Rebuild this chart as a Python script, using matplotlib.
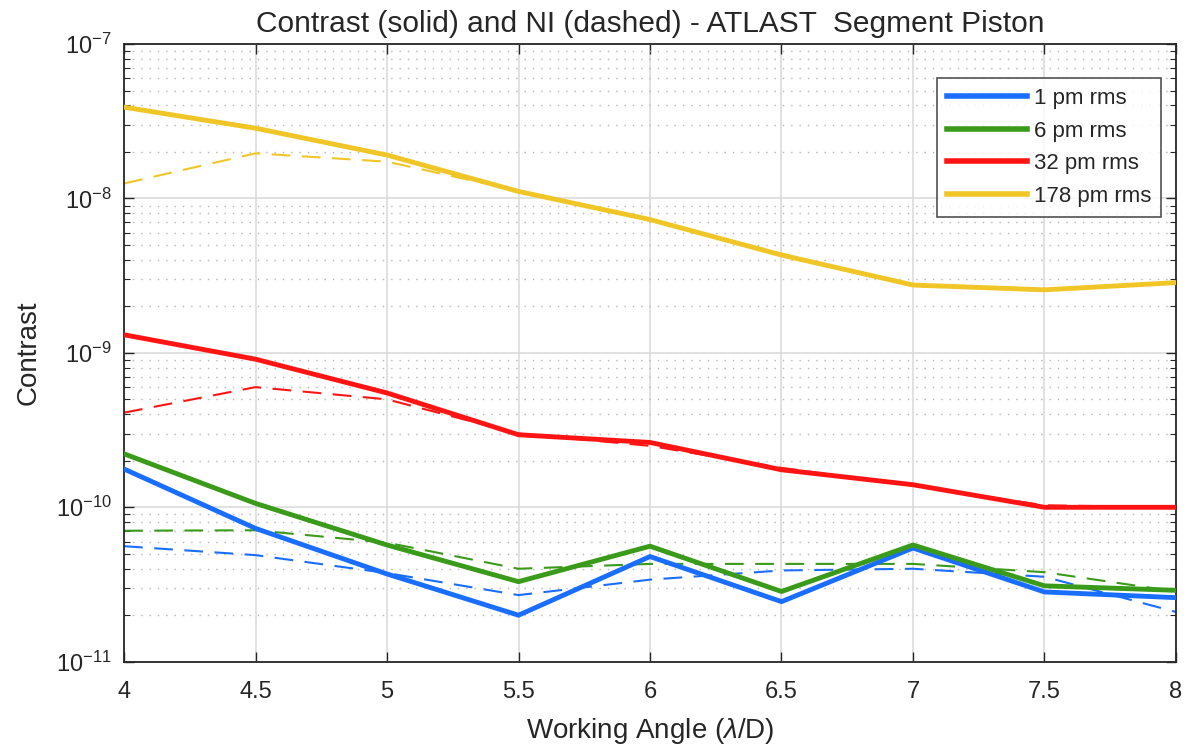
import matplotlib
matplotlib.use("Agg")
import matplotlib.pyplot as plt
from matplotlib.ticker import LogLocator, NullFormatter, FixedLocator, LogFormatterSciNotation

# Working angle grid (lambda/D)
angle = [4.0, 4.5, 5.0, 5.5, 6.0, 6.5, 7.0, 7.5, 8.0]

# Contrast (solid curves)
contrast_1pm = [1.77e-10, 7.3e-11, 3.7e-11, 2.0e-11, 4.8e-11, 2.45e-11, 5.45e-11, 2.83e-11, 2.6e-11]
contrast_6pm = [2.22e-10, 1.06e-10, 5.7e-11, 3.3e-11, 5.6e-11, 2.85e-11, 5.7e-11, 3.1e-11, 2.9e-11]
contrast_32pm = [1.31e-9, 9.1e-10, 5.5e-10, 2.95e-10, 2.63e-10, 1.75e-10, 1.4e-10, 1.0e-10, 1.0e-10]
contrast_178pm = [3.9e-8, 2.85e-8, 1.91e-8, 1.11e-8, 7.3e-9, 4.3e-9, 2.75e-9, 2.56e-9, 2.85e-9]

# Normalized intensity (dashed curves)
ni_1pm = [5.6e-11, 4.9e-11, 3.75e-11, 2.7e-11, 3.4e-11, 3.9e-11, 4.0e-11, 3.55e-11, 2.1e-11]
ni_6pm = [7.05e-11, 7.1e-11, 5.9e-11, 4.0e-11, 4.3e-11, 4.3e-11, 4.3e-11, 3.8e-11, 2.85e-11]
ni_32pm = [4.1e-10, 6.0e-10, 5.0e-10, 3.0e-10, 2.5e-10, 1.8e-10, 1.38e-10, 1.03e-10, 1.0e-10]
ni_178pm = [1.25e-8, 1.96e-8, 1.73e-8, 1.12e-8, 7.3e-9, 4.4e-9, 2.7e-9, 2.55e-9, 2.85e-9]

labels = ["1 pm rms", "6 pm rms", "32 pm rms", "178 pm rms"]
colors = ["#1a6eff", "#3a9a1a", "#ff1414", "#f0c626"]

x_ticks = [4, 4.5, 5, 5.5, 6, 6.5, 7, 7.5, 8]
x_ticklabels = ["4", "4.5", "5", "5.5", "6", "6.5", "7", "7.5", "8"]
y_ticks = [1e-11, 1e-10, 1e-9, 1e-8, 1e-7]

plt.rcParams["font.family"] = ["Liberation Sans", "DejaVu Sans"]
plt.rcParams["mathtext.fontset"] = "custom"
plt.rcParams["mathtext.rm"] = "Liberation Sans"
plt.rcParams["mathtext.it"] = "Liberation Sans:italic"

text_color = "#262626"

fig = plt.figure(figsize=(11.87, 7.5), dpi=100)
ax = fig.add_axes([0.1045, 0.1177, 0.8862, 0.8236])

contrast = [contrast_1pm, contrast_6pm, contrast_32pm, contrast_178pm]
ni = [ni_1pm, ni_6pm, ni_32pm, ni_178pm]

for c, n, lab, col in zip(contrast, ni, labels, colors):
    ax.plot(angle, c, color=col, lw=3.5, label=lab, zorder=3, solid_joinstyle="round")
    ax.plot(angle, n, color=col, lw=1.5, dashes=(9, 5.5), zorder=2.5)

ax.set_yscale("log")
ax.set_xlim(4, 8)
ax.set_ylim(1e-11, 1e-7)
ax.xaxis.set_major_locator(FixedLocator(x_ticks))
ax.set_xticklabels(x_ticklabels)
ax.yaxis.set_major_locator(FixedLocator(y_ticks))
ax.yaxis.set_major_formatter(LogFormatterSciNotation())
ax.yaxis.set_minor_locator(LogLocator(base=10, subs=range(2, 10), numticks=20))
ax.yaxis.set_minor_formatter(NullFormatter())

ax.grid(True, which="major", color="#d9d9d9", lw=1.1, zorder=0)
ax.grid(True, which="minor", axis="y", color="#b4b4b4", lw=1.0, linestyle=(0, (1, 5)), zorder=0)

ax.tick_params(which="both", direction="in", top=True, right=True, colors=text_color,
               labelsize=17, labelcolor=text_color)
ax.tick_params(which="major", length=7, width=1.0)
ax.tick_params(axis="x", which="major", pad=14)
ax.tick_params(axis="y", which="major", pad=9)
ax.tick_params(which="minor", length=4, width=0.8)
for s in ax.spines.values():
    s.set_color(text_color)
    s.set_linewidth(1.3)

ax.set_xlabel(r"Working Angle ($\lambda$/D)", fontsize=20, color=text_color, labelpad=9)
ax.set_ylabel("Contrast", fontsize=20, color=text_color, labelpad=10)
ax.set_title("Contrast (solid) and NI (dashed) - ATLAST  Segment Piston",
             fontsize=21.5, color=text_color, pad=9)

leg = ax.legend(loc="upper right", bbox_to_anchor=(0.9857, 0.945), fontsize=16,
                frameon=True, fancybox=False, edgecolor=text_color, handlelength=3.6,
                handletextpad=0.3, borderpad=0.45, borderaxespad=0.0, labelspacing=0.52)
leg.get_frame().set_linewidth(1.2)
for t in leg.get_texts():
    t.set_color(text_color)
for h in leg.get_lines():
    h.set_linewidth(4.0)

fig.savefig("out.png", dpi=100, facecolor="white")
